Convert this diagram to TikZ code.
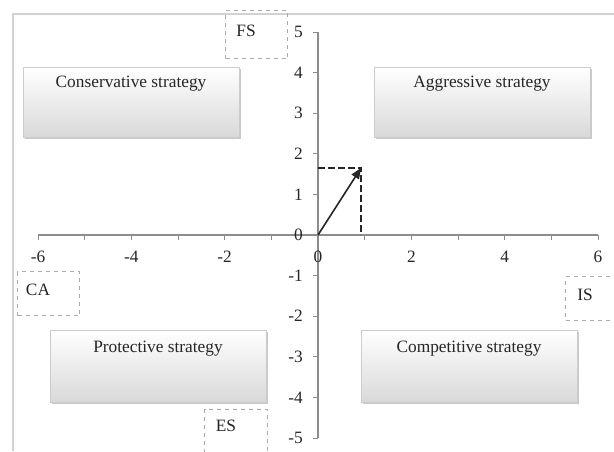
\documentclass[tikz,border=0pt]{standalone}
\usepackage{fontspec}
\setmainfont{Liberation Serif}
\usetikzlibrary{shadows,arrows.meta}
\begin{document}
\begin{tikzpicture}[x=0.75pt,y=-0.75pt,
  every node/.style={font=\fontsize{13}{15}\selectfont, text=black!85, inner sep=0pt},
  strat/.style={draw=gray!40, top color=white, bottom color=gray!30, anchor=north west,
    minimum width=162pt, drop shadow={shadow xshift=1pt, shadow yshift=-1.5pt, fill=gray!70, opacity=0.6}},
  dbox/.style={draw=gray!65, dashed, line width=0.8pt, anchor=north west},
  axisline/.style={draw=black!45, line width=0.8pt},
  tickmark/.style={draw=black!45, line width=0.6pt},
  vec/.style={-{Triangle[length=8pt,width=6.5pt]}, line width=1.2pt, draw=black!85},
  guide/.style={draw=black!85, dash pattern=on 5pt off 2.5pt, line width=0.9pt}]
\useasboundingbox (0,0) rectangle (614,451);
\fill[white] (0,0) rectangle (614,451);
\draw[draw=gray!35, line width=1pt] (614,14) -- (13,14) -- (13,451);

% strategy boxes
\node[strat, minimum height=52.5pt] (cons) at (23,67) {};
\node[strat, minimum height=52.5pt] (aggr) at (374,67) {};
\node[strat, minimum height=54pt] (prot) at (50,330) {};
\node[strat, minimum height=54pt] (comp) at (361,330) {};
\node (consT) at (131,84) {Conservative strategy};
\node (aggrT) at (482,84) {Aggressive strategy};
\node (protT) at (158,349) {Protective strategy};
\node (compT) at (469,349) {Competitive strategy};

% dashed label boxes
\node[dbox, minimum width=46.5pt, minimum height=36pt] (fsbox) at (225,10) {};
\node[dbox, minimum width=46.5pt, minimum height=33pt] (cabox) at (17,271) {};
\node[dbox, minimum width=47.25pt, minimum height=38pt] (esbox) at (204,409) {};
\node[dbox, minimum width=45pt, minimum height=33pt] (isbox) at (565,276) {};
\node (fs) at (246,31) {FS};
\node (ca) at (38,290) {CA};
\node (es) at (226,426) {ES};
\node (is) at (585,295) {IS};

% axes
\coordinate (xl) at (38,235);
\coordinate (xr) at (598,235);
\coordinate (yt) at (318,32);
\coordinate (yb) at (318,438);
\draw[axisline] (xl) -- (xr);
\draw[axisline] (yt) -- (yb);
\foreach \i in {-6,...,6} {
  \draw[tickmark] (318+46.67*\i,235) -- (318+46.67*\i,240);
}
\foreach \j in {-5,...,5} {
  \draw[tickmark] (313,235-40.6*\j) -- (318,235-40.6*\j);
}
\foreach \i/\t in {-6/-6,-4/-4,-2/-2,0/0,2/2,4/4,6/6} {
  \node (xlab\i) at (318+46.67*\i,257) {\t};
}
\foreach \j in {-5,...,5} {
  \node[anchor=east] (ylab\j) at (303,235-40.6*\j) {\j};
}

% vector
\coordinate (O) at (318,235);
\coordinate (P) at (361,168);
\coordinate (Py) at (318,168);
\coordinate (Px) at (361,235);
\draw[guide] (Py) -- (P) -- (Px);
\draw[vec] (O) -- (P);
\end{tikzpicture}
\end{document}
